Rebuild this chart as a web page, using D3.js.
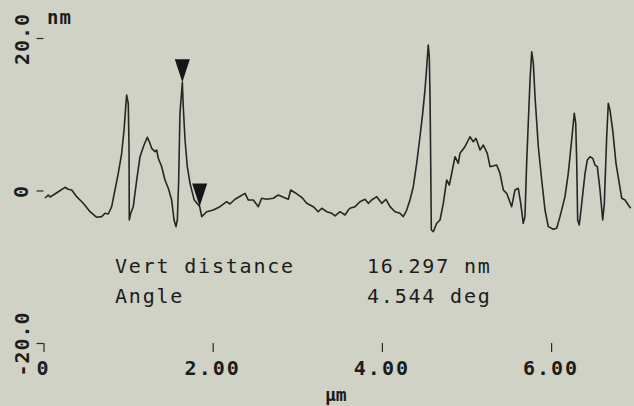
<!DOCTYPE html>
<html>
<head>
<meta charset="utf-8">
<script src="https://cdn.jsdelivr.net/npm/d3@7"></script>
<style>
  html, body { margin: 0; padding: 0; background: #d0d2c6; }
  svg { display: block; }
  text { font-family: "DejaVu Sans Mono", "Liberation Mono", monospace; fill: #1c1c1c; }
</style>
</head>
<body>
<svg id="chart" width="634" height="406"></svg>
<script>
// Section profile: lateral position (µm) and height (nm)
const positions = [
  0.018, 0.057, 0.077, 0.116, 0.175, 0.254, 0.293, 0.333, 0.392, 0.470,
  0.550, 0.629, 0.688, 0.727, 0.766, 0.806, 0.845, 0.884, 0.924, 0.952,
  0.975, 0.983, 1.002, 1.011, 1.014, 1.031, 1.061, 1.102, 1.141, 1.188,
  1.227, 1.251, 1.279, 1.318, 1.338, 1.357, 1.397, 1.436, 1.475, 1.515,
  1.543, 1.566, 1.582, 1.598, 1.613, 1.641, 1.652, 1.673, 1.700, 1.732,
  1.780, 1.846, 1.870, 1.929, 2.007, 2.086, 2.165, 2.204, 2.264, 2.382,
  2.421, 2.480, 2.539, 2.579, 2.638, 2.716, 2.775, 2.835, 2.894, 2.922,
  2.973, 3.052, 3.111, 3.189, 3.248, 3.288, 3.348, 3.407, 3.446, 3.505,
  3.564, 3.603, 3.623, 3.682, 3.741, 3.800, 3.839, 3.879, 3.939, 3.998,
  4.048, 4.096, 4.155, 4.214, 4.253, 4.293, 4.332, 4.371, 4.411, 4.450,
  4.482, 4.509, 4.530, 4.548, 4.560, 4.569, 4.577, 4.584, 4.608, 4.648,
  4.687, 4.726, 4.766, 4.797, 4.825, 4.864, 4.903, 4.923, 4.982, 5.041,
  5.080, 5.112, 5.160, 5.199, 5.246, 5.278, 5.357, 5.396, 5.435, 5.475,
  5.534, 5.573, 5.612, 5.641, 5.671, 5.691, 5.711, 5.730, 5.751, 5.771,
  5.790, 5.810, 5.849, 5.889, 5.928, 5.967, 6.026, 6.066, 6.105, 6.164,
  6.203, 6.243, 6.262, 6.274, 6.291, 6.303, 6.314, 6.333, 6.362, 6.401,
  6.428, 6.460, 6.492, 6.519, 6.546, 6.578, 6.610, 6.629, 6.657, 6.676,
  6.696, 6.728, 6.767, 6.806, 6.835, 6.874, 6.913, 6.941
];
const heights = [
  -0.98, -0.59, -0.85, -0.59, -0.16, 0.42, 0.16, 0.07, -0.81, -1.68,
  -2.78, -3.51, -3.43, -2.99, -3.08, -2.12, 0.07, 2.25, 4.88, 7.93,
  11.43, 12.52, 11.43, 5.74, -3.87, -2.99, -2.12, 1.38, 4.43, 5.96,
  6.97, 6.40, 5.53, 5.09, 5.31, 4.22, 3.12, 1.38, 0.29, -1.25,
  -3.87, -4.74, -3.87, 1.38, 10.12, 14.20, 10.98, 6.62, 3.12, 0.94,
  -1.20, -2.10, -3.43, -2.78, -2.56, -2.12, -1.47, -1.77, -1.15, -0.37,
  -1.25, -1.25, -2.12, -1.02, -1.15, -1.02, -0.59, -0.89, -1.15, 0.07,
  -0.29, -0.89, -1.68, -2.12, -2.78, -2.33, -2.78, -2.99, -3.34, -2.78,
  -3.21, -2.56, -2.33, -2.12, -1.47, -1.15, -1.68, -1.25, -0.81, -1.68,
  -1.15, -2.12, -2.78, -2.99, -3.43, -2.56, -1.25, 0.50, 3.56, 7.05,
  10.12, 13.17, 16.23, 19.07, 17.54, 12.29, 3.56, -5.18, -5.40, -4.30,
  -3.87, -1.68, 1.38, 0.72, 2.25, 4.43, 3.56, 4.88, 5.74, 7.05,
  6.40, 6.84, 5.31, 5.96, 4.88, 3.12, 3.34, 2.25, 0.07, -0.37,
  -2.12, 0.07, 0.29, -1.68, -4.30, -3.43, 3.56, 8.81, 14.48, 18.19,
  16.67, 12.29, 5.74, 1.38, -2.56, -4.74, -5.09, -4.95, -3.43, -0.81,
  2.25, 6.62, 8.81, 10.12, 8.81, 3.56, -3.87, -4.52, -1.68, 2.25,
  4.00, 4.43, 4.22, 3.34, 3.12, 0.07, -3.87, -1.68, 7.05, 11.43,
  10.55, 7.93, 3.56, 0.94, -1.02, -1.25, -1.90, -2.33
];

// Measurement cursors (µm, nm)
const cursorX = [1.641, 1.846];
const cursorY = [14.20, -2.10];

// Axis ticks and their labels
const xTicks = [0, 2, 4, 6];
const xTickLabels = ["0", "2.00", "4.00", "6.00"];
const yTicks = [-20, 0, 20];
const yTickLabels = ["-20.0", "0", "20.0"];
const xUnit = "μm";
const yUnit = "nm";

// Readout lines below the profile
const readoutNames = ["Vert distance", "Angle"];
const readoutValues = ["16.297 nm", "4.544 deg"];

const svg = d3.select("#chart");

const x = d3.scaleLinear().domain([0, 7]).range([43.5, 635.7]);
const y = d3.scaleLinear().domain([-20, 20]).range([343, 38]);

// Y axis: short ticks to the left, rotated labels
const yAxis = svg.append("g").attr("transform", `translate(${x(0)},0)`);
yAxis.append("g")
  .call(d3.axisLeft(y).tickValues(yTicks).tickSize(7).tickFormat(""))
  .call(g => g.select(".domain").remove())
  .call(g => g.selectAll(".tick line").attr("stroke", "#2a2a2a").attr("stroke-width", 1.2));

svg.append("g").selectAll("text")
  .data(yTicks)
  .join("text")
  .attr("transform", d => `translate(${d === 0 ? 28 : 29},${y(d) + 1}) rotate(-90)`)
  .attr("text-anchor", "middle")
  .attr("font-size", 20)
  .attr("font-weight", "bold")
  .attr("letter-spacing", "1px")
  .text((d, i) => yTickLabels[i]);

svg.append("text")
  .attr("x", 47).attr("y", 24)
  .attr("font-size", 19)
  .attr("font-weight", "bold")
  .attr("letter-spacing", "1px")
  .text(yUnit);

// X axis: short ticks below the -20 line
const xAxis = svg.append("g").attr("transform", `translate(0,${y(-20)})`);
xAxis.append("g")
  .call(d3.axisBottom(x).tickValues(xTicks).tickSize(9).tickFormat(""))
  .call(g => g.select(".domain").remove())
  .call(g => g.selectAll(".tick line").attr("stroke", "#2a2a2a").attr("stroke-width", 1.2));

svg.append("g").selectAll("text")
  .data(xTicks)
  .join("text")
  .attr("x", d => x(d))
  .attr("y", 375)
  .attr("text-anchor", "middle")
  .attr("font-size", 20)
  .attr("font-weight", "bold")
  .attr("letter-spacing", "2px")
  .text((d, i) => xTickLabels[i]);

svg.append("text")
  .attr("x", 325).attr("y", 401)
  .attr("font-size", 18)
  .attr("font-weight", "bold")
  .text(xUnit);

// Profile trace
const line = d3.line()
  .x(d => x(d[0]))
  .y(d => y(d[1]));

svg.append("path")
  .datum(positions.map((p, i) => [p, heights[i]]))
  .attr("fill", "none")
  .attr("stroke", "#262626")
  .attr("stroke-width", 1.6)
  .attr("stroke-linejoin", "round")
  .attr("d", line);

// Cursor markers: filled down-pointing triangles resting on the trace
svg.append("g").selectAll("path")
  .data(cursorX.map((c, i) => [c, cursorY[i]]))
  .join("path")
  .attr("transform", d => `translate(${x(d[0])},${y(d[1])})`)
  .attr("d", "M-7.5,-23 L7.5,-23 L0,0 Z")
  .attr("fill", "#151515");

// Readout text
const readout = svg.append("g");
readout.selectAll("text.name")
  .data(readoutNames)
  .join("text")
  .attr("class", "name")
  .attr("x", 115)
  .attr("y", (d, i) => 273 + i * 30)
  .attr("font-size", 20)
  .attr("letter-spacing", "1.8px")
  .text(d => d);
readout.selectAll("text.value")
  .data(readoutValues)
  .join("text")
  .attr("class", "value")
  .attr("x", 367)
  .attr("y", (d, i) => 273 + i * 30)
  .attr("font-size", 20)
  .attr("letter-spacing", "1.8px")
  .text(d => d);
</script>
</body>
</html>
